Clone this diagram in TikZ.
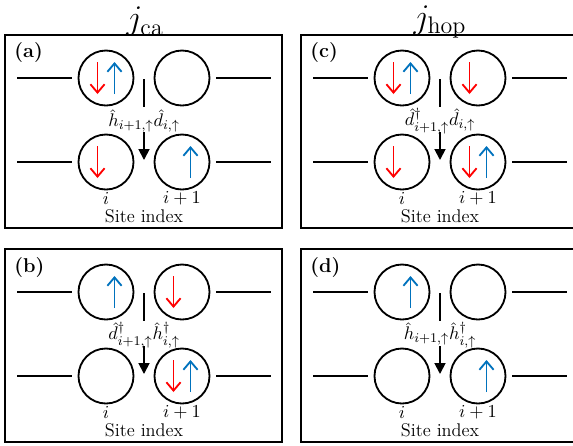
\documentclass[tikz,border=0pt]{standalone}
\usetikzlibrary{arrows.meta,calc}
\definecolor{spinred}{RGB}{255,0,0}
\definecolor{spinblue}{RGB}{0,114,189}
\tikzset{
  site/.style={draw, circle, line width=1.1pt, minimum size=33pt, inner sep=0pt},
  lead/.style={line width=1.1pt},
  panelbox/.style={draw, line width=1.1pt},
  spindn/.style={draw=spinred, line width=1.1pt, -{Straight Barb[length=5pt,width=8.5pt]}},
  spinup/.style={draw=spinblue, line width=1.1pt, -{Straight Barb[length=5pt,width=8.5pt]}},
  hop/.style={line width=1.1pt},
  hophead/.style={-{Triangle[length=6.5pt,width=6.5pt]}},
  oplabel/.style={inner sep=0pt},
  sitelabel/.style={inner sep=0pt},
  paneltag/.style={font=\fontsize{12}{14}\selectfont\bfseries, anchor=west, inner sep=0pt},
  title/.style={font=\fontsize{20}{24}\selectfont, inner sep=0pt}
}
\newcommand\spinD[1]{\draw[spindn] ($(#1)+(-8.5,-16)$) -- ($(#1)+(-8.5,16)$);}
\newcommand\spinU[1]{\draw[spinup] ($(#1)+(8.5,16)$) -- ($(#1)+(8.5,-16)$);}
% #1 xshift, #2 yshift, #3 name, #4 tag, #5 operator, #6..#9 spins tl,tr,bl,br
\newcommand\panel[9]{%
\begin{scope}[shift={(#1,#2)}]
  \draw[panelbox] (5,35) rectangle (282,228);
  \node[paneltag] (#3tag) at (14,53) {(#4)};
  \node[site] (#3tl) at (106,78) {};
  \node[site] (#3tr) at (182,78) {};
  \node[site] (#3bl) at (106,162) {};
  \node[site] (#3br) at (182,162) {};
  \draw[lead] ($(#3tl.west)+(-6,0)$) -- ($(#3tl.west)+(-61,0)$);
  \draw[lead] ($(#3tr.east)+(6,0)$) -- ($(#3tr.east)+(61,0)$);
  \draw[lead] ($(#3bl.west)+(-6,0)$) -- ($(#3bl.west)+(-61,0)$);
  \draw[lead] ($(#3br.east)+(6,0)$) -- ($(#3br.east)+(61,0)$);
  \coordinate (#3s) at (144,79);
  \coordinate (#3m1) at (144,107);
  \node[oplabel] (#3op) at (144,121) {#5};
  \coordinate (#3m2) at (144,132);
  \coordinate (#3e) at (144,160);
  \draw[hop] (#3s) -- (#3m1);
  \draw[hop,hophead] (#3m2) -- (#3e);
  #6{#3tl}
  #7{#3tr}
  #8{#3bl}
  #9{#3br}
  \node[sitelabel] (#3i) at (106,198) {$i$};
  \node[sitelabel] (#3ip) at (182,198) {$i+1$};
  \node[sitelabel] (#3site) at (144,216) {Site index};
\end{scope}}
\newcommand\both[1]{\spinD{#1}\spinU{#1}}
\newcommand\none[1]{}
\begin{document}
\begin{tikzpicture}[x=0.6pt,y=-0.6pt,font=\fontsize{11}{13}\selectfont]
  \useasboundingbox (0,0) rectangle (573,445);
  \node[title] (t1) at (145,22) {$j_{\mathrm{ca}}$};
  \node[title] (t2) at (440,22) {$j_{\mathrm{hop}}$};
  \panel{0}{0}{a}{a}{$\hat h_{i+1,\uparrow}\hat d_{i,\uparrow}$}{\both}{\none}{\spinD}{\spinU}
  \panel{0}{214}{b}{b}{$\hat d^{\dagger}_{i+1,\uparrow}\hat h^{\dagger}_{i,\uparrow}$}{\spinU}{\spinD}{\none}{\both}
  \panel{296}{0}{c}{c}{$\hat d^{\dagger}_{i+1,\uparrow}\hat d_{i,\uparrow}$}{\both}{\spinD}{\spinD}{\both}
  \panel{296}{214}{d}{d}{$\hat h_{i+1,\uparrow}\hat h^{\dagger}_{i,\uparrow}$}{\spinU}{\none}{\none}{\spinU}
\end{tikzpicture}
\end{document}
